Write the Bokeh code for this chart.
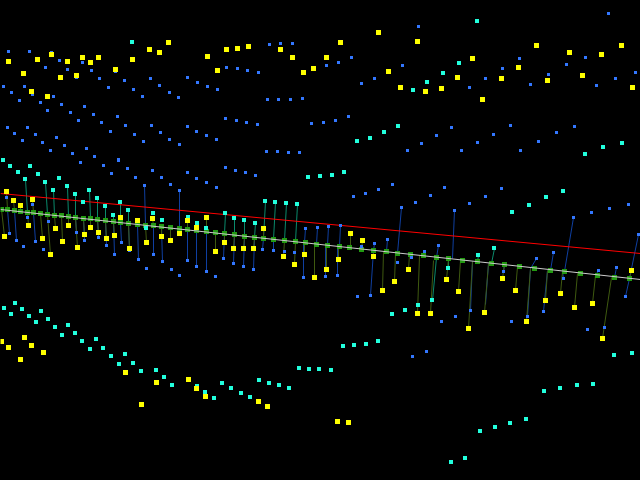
from bokeh.plotting import figure
from bokeh.embed import file_html
from bokeh.resources import INLINE

yellow_x = [8,37,51,67,82,90,98,23,60,76,115,132,149,159,168,207,31,47,
            226,237,248,280,292,217,303,313,326,340,378,417,388,400,425,
            536,569,601,621,472,518,457,501,547,582,632,441,482,
            6,13,20,32,28,4,42,55,68,62,77,50,90,84,98,106,114,120,137,152,129,146,161,170,179,187,196,206,
            215,224,233,243,253,263,283,294,304,314,326,338,350,362,373,382,394,408,417,
            430,446,458,484,502,515,545,560,574,592,631,
            1,24,8,31,43,20,125,156,188,196,205,141,258,267,337,348,468,526,602]
yellow_y = [61,59,54,61,57,62,57,73,77,75,69,59,49,52,42,56,91,96,
            49,48,46,49,57,70,72,68,57,42,32,41,71,87,91,
            45,52,54,45,58,67,77,78,80,75,87,88,99,
            191,200,205,199,225,236,238,228,225,241,247,254,227,234,232,238,235,217,220,218,248,242,236,240,233,220,227,217,
            251,242,248,248,248,228,256,264,254,277,269,259,233,240,256,290,281,269,313,
            313,279,291,312,278,290,300,293,307,303,270,
            341,337,347,345,352,359,372,382,379,388,396,404,401,406,421,422,328,321,338]

cyan_x = [132,3,413,427,398,384,370,357,477,459,443,622,603,585,
          10,30,18,38,59,25,45,53,67,75,89,97,83,105,120,113,128,153,162,188,197,206,146,
          225,234,244,255,265,275,286,297,308,320,332,344,418,405,392,
          478,494,448,432,512,529,546,563,
          4,15,11,22,29,41,36,48,55,68,62,75,82,96,90,103,111,125,119,133,141,156,164,172,197,205,214,222,231,241,250,259,269,279,289,299,309,319,
          343,354,366,378,331,544,560,577,593,614,632,480,495,510,526,451,465]
cyan_y = [42,160,90,82,126,132,138,141,21,63,73,143,147,154,
          166,166,172,174,178,179,182,190,186,194,190,198,202,206,202,215,210,213,220,217,223,228,228,
          213,218,220,223,201,202,203,204,177,176,175,172,305,310,314,
          255,248,268,300,212,205,197,191,
          308,303,314,309,316,311,322,319,327,325,335,333,341,339,349,348,356,354,364,363,371,370,377,385,386,392,398,383,388,393,397,380,383,385,388,368,369,369,
          346,345,344,341,370,391,388,385,384,355,353,431,427,423,419,462,458]

blue_x = [8,29,51,59,82,45,67,91,115,76,99,124,150,187,197,207,159,169,178,3,24,11,32,19,40,53,108,133,142,
          61,47,70,84,93,78,101,117,125,110,134,143,151,160,169,179,187,196,206,7,27,14,35,22,42,56,64,50,72,86,94,118,
          418,269,280,292,226,237,247,258,217,326,338,351,402,374,361,267,278,290,302,225,236,246,257,311,323,335,348,216,421,407,266,277,288,299,
          608,519,502,485,469,585,566,548,530,635,615,596,451,436,510,493,477,461,574,556,538,520,
          80,103,118,111,127,135,152,161,170,144,179,187,196,206,6,32,27,48,76,9,16,35,23,43,84,98,106,114,121,129,138,153,162,187,196,206,146,171,179,
          225,235,245,255,216,305,317,328,340,374,387,401,415,392,378,365,353,223,233,243,253,262,273,284,294,303,325,337,361,370,357,215,397,411,424,
          430,444,469,485,501,454,438,573,591,609,628,638,553,536,598,616,625,563,503,470,543,527,455,412,426,441,511,587,604]
blue_y = [51,51,52,60,62,67,69,70,71,77,78,80,78,77,82,86,85,92,97,86,86,92,94,100,102,96,87,89,96,
          104,110,112,106,114,120,122,116,125,131,134,141,125,132,139,144,126,131,135,127,127,133,134,140,142,137,145,150,153,148,156,159,
          26,44,43,43,67,68,70,72,89,65,62,57,65,78,83,99,99,99,98,118,120,122,124,123,122,120,116,139,143,150,151,151,152,152,
          13,58,68,78,87,57,64,74,84,72,78,85,127,135,125,134,142,150,126,132,141,150,
          162,165,160,173,168,177,170,177,184,185,190,172,178,182,197,204,217,221,232,233,240,241,246,249,240,237,245,254,242,250,259,254,261,260,266,271,268,269,275,
          167,170,172,175,187,228,227,226,225,243,239,207,202,184,189,193,196,258,263,266,269,249,250,251,252,277,276,275,246,295,296,276,262,257,251,
          195,187,203,196,188,210,245,217,212,208,204,234,252,258,270,267,296,278,271,310,311,316,316,356,351,321,321,329,327]

green_x = [1,7,14,20,27,33,40,47,54,61,68,75,83,90,97,105,113,120,128,137,145,153,161,170,179,187,196,206,
           215,224,234,244,254,263,273,284,295,305,316,327,339,349,361,373,386,397,410,423,
           436,448,462,477,491,504,519,534,550,564,580,597,614,629]
green_y = [209,209,210,211,212,212,213,214,215,215,216,217,218,218,219,220,221,222,223,224,225,225,226,227,228,229,230,231,
           232,233,234,236,237,238,239,240,241,242,244,245,246,247,249,250,251,253,254,255,
           257,258,260,261,263,264,266,268,270,271,273,275,277,278]

red_x = [0,640]
red_y = [193,253]
white_x = [0,640]
white_y = [209,279]

teal_x0 = [27,47,54,68,75,90,97,105,120,113,128,224,234,244,254,263,273,284,295,477,491,448,436]
teal_y0 = [212,214,215,216,217,218,219,220,222,221,223,233,234,236,237,238,239,240,241,261,263,258,257]
teal_x1 = [25,45,53,67,75,89,97,105,120,113,128,225,234,244,255,265,275,286,297,478,494,448,432]
teal_y1 = [179,182,190,186,194,190,198,206,202,215,210,213,218,220,223,201,202,203,204,255,248,268,300]

olive_x0 = [1,27,40,47,61,75,54,68,83,90,97,105,113,128,145,161,170,14,7,20,33,120,137,153,179,187,196,206,
            215,224,234,244,254,263,284,295,304,314,326,338,350,361,373,383,395,409,419,
            433,448,460,472,488,504,517,530,547,562,577,595,611,629]
olive_y0 = [209,212,213,214,215,217,215,216,218,218,219,220,221,223,225,226,227,210,209,211,212,222,224,225,228,229,230,231,
            232,233,234,236,237,238,240,241,242,244,245,246,247,249,250,251,253,254,255,
            260,258,260,261,263,264,266,268,270,271,273,275,277,278]
olive_x1 = [4,28,42,50,62,77,55,68,84,90,98,106,114,129,146,161,170,13,6,20,32,120,137,152,179,187,196,206,
            215,224,233,243,253,263,283,294,304,314,326,338,350,362,373,382,394,408,417,
            430,446,458,468,484,502,515,526,545,560,574,592,602,631]
olive_y1 = [236,225,238,254,241,247,228,225,234,227,232,238,235,248,242,236,240,200,191,205,199,217,220,218,233,220,227,217,
            251,242,248,248,248,228,256,264,254,277,269,259,233,240,256,290,281,269,313,
            313,279,291,328,312,278,290,321,300,293,307,303,338,270]

navy_x0 = [145,179,187,196,206,113,137,153,161,120,14,7,33,83,105,75,128,97,
           224,234,244,254,263,273,304,316,327,325,339,337,303,373,386,397,373,
           452,436,564,629,550,530,595,614,629,472,488,547,530,562,504]
navy_y0 = [225,228,229,230,231,221,224,225,226,222,210,209,212,218,220,217,223,219,
           233,234,236,237,238,239,242,244,245,245,246,246,242,250,251,253,250,
           258,257,271,278,270,268,275,277,278,261,263,270,268,271,264]
navy_x1 = [144,179,187,196,206,114,138,153,162,121,16,9,35,84,106,76,129,98,
           223,233,243,253,262,273,305,317,328,325,340,337,303,374,387,401,370,
           454,438,573,638,553,536,598,616,625,470,485,543,527,563,503]
navy_y1 = [185,190,260,266,271,254,259,254,261,242,240,233,241,240,245,232,250,237,
           258,263,266,269,249,250,228,227,226,276,225,275,277,243,239,207,295,
           210,245,217,234,252,258,270,267,296,310,304,311,316,278,271]


def squares(fig, xs, ys, before, after, color):
    # The SVG canvas sits half a pixel off, so the edges are moved back by 0.5.
    fig.quad(left=[x - before - 0.5 for x in xs], right=[x + after - 0.5 for x in xs],
             top=[y - before - 0.5 for y in ys], bottom=[y + after - 0.5 for y in ys],
             fill_color=color, line_color=None)


p = figure(width=640, height=480, x_range=(0, 640), y_range=(480, 0),
           output_backend="svg", toolbar_location=None,
           background_fill_color="#000000", border_fill_color="#000000",
           min_border=0, outline_line_color=None,
           styles={"background-color": "#000000"})
p.axis.visible = False
p.grid.visible = False

p.segment(navy_x0, navy_y0, navy_x1, navy_y1, line_color="#0f3fa0", line_width=1)
p.segment(teal_x0, teal_y0, teal_x1, teal_y1, line_color="#0a8a6c", line_width=1)
p.segment(olive_x0, olive_y0, olive_x1, olive_y1, line_color="#3f5a10", line_width=1)
p.line(red_x, red_y, line_color="#ff0000", line_width=1)
squares(p, green_x, green_y, 2, 3, "#229911")
p.line(white_x, white_y, line_color="#cccccc", line_width=1)
squares(p, blue_x, blue_y, 1, 2, "#3377ff")
squares(p, cyan_x, cyan_y, 2, 2, "#22ffdd")
squares(p, yellow_x, yellow_y, 2, 3, "#ffff00")

open("out.html", "w").write(file_html(p, INLINE))
